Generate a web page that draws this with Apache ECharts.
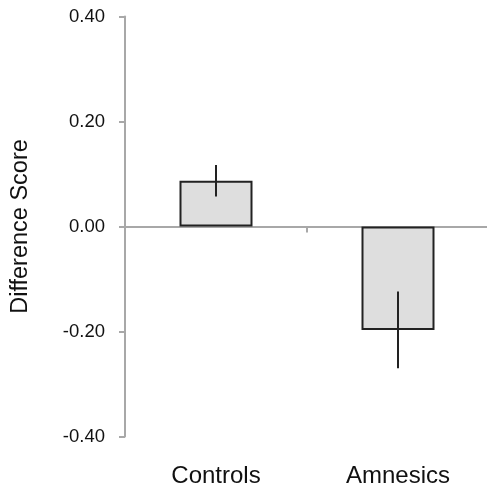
<!DOCTYPE html>
<html>
<head>
<meta charset="utf-8">
<script src="https://cdn.jsdelivr.net/npm/echarts@6/dist/echarts.min.js"></script>
<style>
html,body{margin:0;padding:0;background:#fff;}
#chart{width:487px;height:489px;}
</style>
</head>
<body>
<div id="chart"></div>
<script>
const categories = ['Controls', 'Amnesics'];
const meanValues = [0.087, -0.197];
const errorValues = [0.030, 0.073];
const yTicks = { min: -0.4, max: 0.4, interval: 0.2 };
const yTitle = 'Difference Score';

const chart = echarts.init(document.getElementById('chart'), null, { renderer: 'canvas' });
const font = '"Liberation Sans", Arial, Helvetica, sans-serif';
const axisGray = '#a8a8a8';

const errData = categories.map((c, i) => [i, meanValues[i] + errorValues[i], meanValues[i] - errorValues[i]]);

chart.setOption({
  animation: false,
  backgroundColor: '#ffffff',
  grid: { left: 125, right: -2, top: 16.5, bottom: 52.5, containLabel: false, outerBoundsMode: 'none' },
  xAxis: [
    {
      type: 'category',
      data: categories,
      boundaryGap: true,
      axisLine: { show: true, onZero: true, lineStyle: { color: axisGray, width: 2 } },
      axisTick: { show: true, length: 6, lineStyle: { color: axisGray, width: 2 } },
      axisLabel: { show: false },
      splitLine: { show: false }
    },
    {
      type: 'category',
      data: categories,
      position: 'bottom',
      boundaryGap: true,
      axisLine: { show: false, onZero: false },
      axisTick: { show: false },
      axisLabel: { show: true, margin: 28, fontSize: 24, color: '#111', fontFamily: font },
      splitLine: { show: false }
    }
  ],
  yAxis: {
    type: 'value',
    min: yTicks.min, max: yTicks.max, interval: yTicks.interval,
    name: yTitle,
    nameLocation: 'middle',
    nameGap: 92,
    nameRotate: 90,
    nameTextStyle: { fontSize: 23.5, color: '#111', fontFamily: font },
    axisLine: { show: true, lineStyle: { color: axisGray, width: 2 } },
    axisTick: { show: true, length: 6, lineStyle: { color: axisGray, width: 2 } },
    axisLabel: { margin: 20, fontSize: 18.5, color: '#111', fontFamily: font,
      padding: [7, 0, 0, 0],
      formatter: v => v.toFixed(2) },
    splitLine: { show: false }
  },
  series: [
    {
      type: 'bar',
      xAxisIndex: 0,
      data: meanValues,
      barWidth: 73,
      itemStyle: { color: '#dedede', borderColor: '#222', borderWidth: 2 },
      z: 2
    },
    {
      type: 'custom',
      xAxisIndex: 0,
      data: errData,
      z: 3,
      renderItem: function (params, api) {
        const x = api.value(0);
        const hi = api.coord([x, api.value(1)]);
        const lo = api.coord([x, api.value(2)]);
        return {
          type: 'line',
          shape: { x1: hi[0], y1: hi[1], x2: lo[0], y2: lo[1] },
          style: { stroke: '#222', lineWidth: 2 }
        };
      },
      encode: { x: 0, y: [1, 2] }
    }
  ]
});
</script>
</body>
</html>
